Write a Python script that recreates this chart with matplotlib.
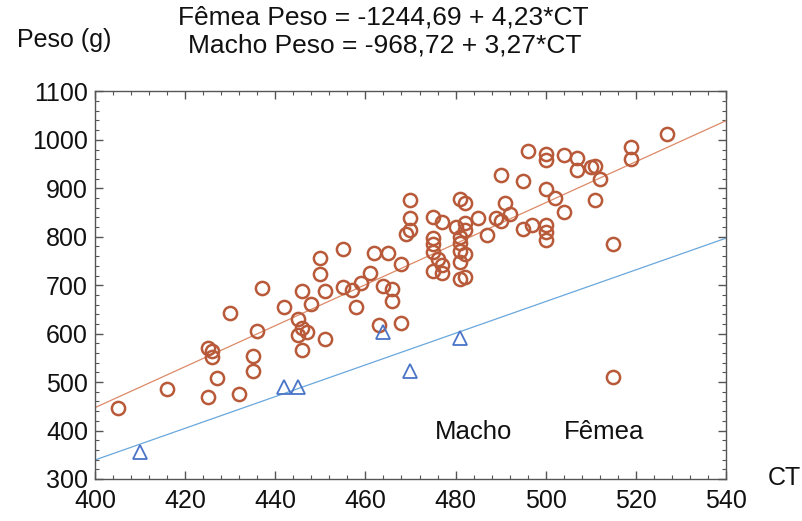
import numpy as np
import matplotlib
matplotlib.use("Agg")
import matplotlib.pyplot as plt
from matplotlib.ticker import MultipleLocator

plt.rcParams['font.family'] = ['Liberation Sans', 'DejaVu Sans']

# Fêmea (female) samples: CT, Peso (g)
femea_ct = [450, 450, 437, 446, 451, 496, 500, 500, 504, 490, 495, 500, 502, 504,
            470, 481, 482, 491, 470, 475, 477, 485, 482, 480, 492, 489, 490, 470,
            469, 482, 481, 487, 495, 497, 500, 500, 500, 475, 475, 475, 476, 477,
            475, 477, 481, 481, 482, 481, 481, 482, 455, 462, 465, 468, 461, 459,
            455, 457, 464, 466, 527, 519, 519, 507, 507, 510, 511, 512, 511, 515,
            405, 416, 425, 432, 427, 435, 435, 425, 426, 426, 430, 436, 442, 448,
            445, 446, 445, 447, 446, 451, 466, 458, 463, 468, 515]
femea_peso = [757, 724, 694, 687, 687, 976, 970, 958, 969, 927, 915, 898, 881, 852,
              875, 878, 869, 869, 839, 841, 831, 839, 829, 821, 847, 838, 833, 814,
              805, 814, 800, 804, 815, 824, 824, 810, 793, 798, 785, 769, 754, 742,
              730, 726, 787, 771, 764, 747, 713, 716, 775, 767, 767, 743, 725, 705,
              697, 690, 699, 692, 1012, 986, 960, 962, 938, 943, 946, 919, 876, 785,
              447, 486, 470, 475, 509, 523, 554, 570, 564, 552, 642, 606, 656, 661,
              630, 611, 597, 604, 566, 588, 668, 656, 618, 621, 510]

# Macho (male) samples
macho_ct = [410, 442, 445, 464, 470, 481]
macho_peso = [356, 490, 490, 604, 522, 590]

# regression lines from the equations
femea_coef = (-1244.69, 4.23)
macho_coef = (-968.72, 3.27)
x_range = [400, 540]

fig = plt.figure(figsize=(8.02, 5.21), dpi=100)
ax = fig.add_axes([95 / 802, 42 / 521, 631 / 802, 387.6 / 521])

xl = np.array(x_range, dtype=float)
ax.plot(xl, femea_coef[0] + femea_coef[1] * xl, color='#dd8a68', lw=0.9)
ax.plot(xl, macho_coef[0] + macho_coef[1] * xl, color='#6aa8dc', lw=0.9)

ax.plot(femea_ct, femea_peso, 'o', ms=9.5, mfc='none', mec='#b85a3a', mew=1.8)
ax.plot(macho_ct, macho_peso, '^', ms=10, mfc='none', mec='#4a74c8', mew=1.3)

ax.set_xlim(400, 540)
ax.set_ylim(300, 1100)
ax.xaxis.set_major_locator(MultipleLocator(20))
ax.xaxis.set_minor_locator(MultipleLocator(4))
ax.yaxis.set_major_locator(MultipleLocator(100))
ax.yaxis.set_minor_locator(MultipleLocator(20))
ax.tick_params(which='both', direction='in', top=True, right=True, colors='#555555',
               labelcolor='#111111', labelsize=18)
ax.tick_params(which='major', length=6, width=1)
ax.tick_params(which='minor', length=3, width=0.8)
ax.tick_params(axis='x', pad=7)
ax.tick_params(axis='y', pad=5)
for s in ax.spines.values():
    s.set_color('#555555')
    s.set_linewidth(1.0)

ax.text(484, 397, 'Macho', fontsize=18.5, ha='center', va='center', color='#111111')
ax.text(513, 397, 'Fêmea', fontsize=18.5, ha='center', va='center', color='#111111')

fig.text(383 / 802, 1 - 18 / 521, 'Fêmea Peso = -1244,69 + 4,23*CT', fontsize=19,
         ha='center', va='center', color='#111111')
fig.text(385 / 802, 1 - 45 / 521, 'Macho Peso = -968,72 + 3,27*CT', fontsize=19,
         ha='center', va='center', color='#111111')
fig.text(64 / 802, 1 - 40 / 521, 'Peso (g)', fontsize=18, ha='center', va='center',
         color='#111111')
fig.text(784 / 802, 1 - 478 / 521, 'CT', fontsize=18, ha='center', va='center',
         color='#111111')

fig.savefig('out.png', dpi=100)
